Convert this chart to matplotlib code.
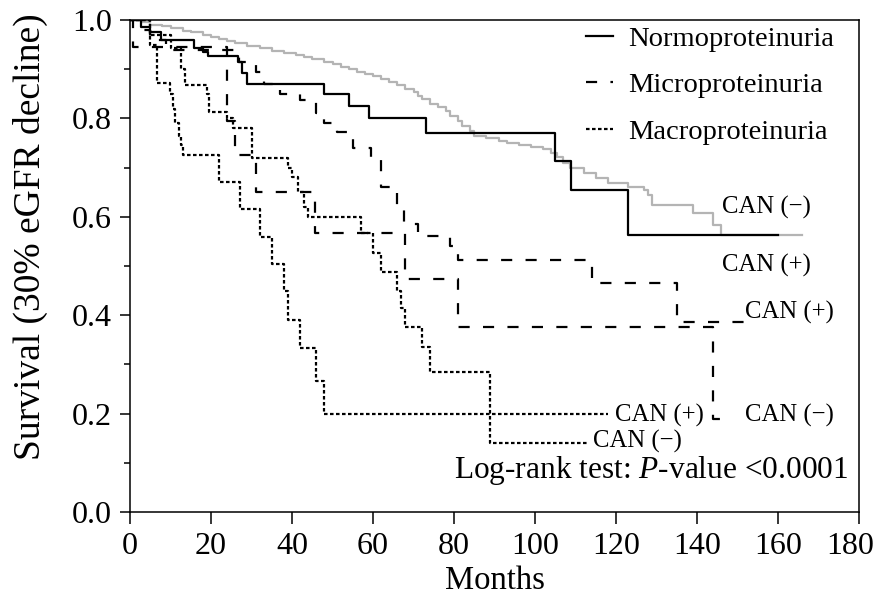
import numpy as np
import matplotlib
matplotlib.use("Agg")
import matplotlib.pyplot as plt
import matplotlib.transforms as mtransforms

plt.rcParams['font.family'] = ['Liberation Serif', 'DejaVu Serif']
plt.rcParams['mathtext.fontset'] = 'custom'
plt.rcParams['mathtext.rm'] = 'Liberation Serif'
plt.rcParams['mathtext.it'] = 'Liberation Serif:italic'

# Normoproteinuria, CAN (-)  (gray)
norm_neg_t = [0, 3, 5, 8, 10, 13, 15, 18, 20, 22, 24, 26, 29, 32, 35, 38, 41, 43, 45, 48,
              50, 52, 54, 56, 58, 60, 62, 64, 66, 68, 70, 71, 72, 74, 76, 78, 79, 81, 82,
              84, 85, 88, 91, 93, 96, 99, 102, 104, 105.4, 107, 108.6, 112, 115, 118, 123,
              127, 128, 129, 139, 144, 146]
norm_neg_s = [1.0, 0.995, 0.99, 0.987, 0.983, 0.978, 0.975, 0.97, 0.966, 0.962, 0.958, 0.953,
              0.948, 0.943, 0.938, 0.933, 0.928, 0.924, 0.92, 0.915, 0.91, 0.905, 0.90, 0.895,
              0.89, 0.886, 0.88, 0.874, 0.867, 0.86, 0.853, 0.846, 0.84, 0.83, 0.823, 0.815,
              0.805, 0.795, 0.785, 0.775, 0.765, 0.76, 0.755, 0.75, 0.746, 0.742, 0.737, 0.73,
              0.722, 0.71, 0.70, 0.689, 0.679, 0.668, 0.66, 0.654, 0.644, 0.624, 0.608, 0.583,
              0.563]
norm_neg_end = 166

# Normoproteinuria, CAN (+)
norm_pos_t = [0, 2.7, 5, 7.7, 15.8, 18, 19.3, 26.7, 27.6, 29, 48, 54, 59, 73, 105, 109, 123]
norm_pos_s = [1.0, 0.985, 0.975, 0.96, 0.943, 0.935, 0.927, 0.915, 0.892, 0.87, 0.85, 0.825,
              0.80, 0.77, 0.713, 0.654, 0.563]
norm_pos_end = 160

# Microproteinuria (two groups)
micro_a_t = [0, 0.8, 24, 26, 31, 45.7, 68, 81, 144]
micro_a_s = [1.0, 0.945, 0.795, 0.726, 0.65, 0.567, 0.474, 0.376, 0.19]
micro_a_end = 148

micro_b_t = [0, 3, 5, 9, 27, 31, 33, 37, 42, 46, 48, 51, 55, 59.5, 62, 66, 67.6, 71, 79, 81,
             114, 135]
micro_b_s = [1.0, 0.98, 0.96, 0.94, 0.915, 0.895, 0.87, 0.85, 0.838, 0.81, 0.79, 0.772, 0.74,
             0.72, 0.66, 0.615, 0.585, 0.561, 0.54, 0.512, 0.465, 0.386]
micro_b_end = 152

# Macroproteinuria (two groups)
macro_c_t = [0, 5, 6.7, 9.8, 10.5, 11.2, 12, 12.6, 13, 22, 27.2, 32, 35, 38, 39, 42, 46, 48]
macro_c_s = [1.0, 0.95, 0.872, 0.85, 0.82, 0.79, 0.765, 0.745, 0.725, 0.67, 0.616, 0.559,
             0.504, 0.45, 0.39, 0.333, 0.266, 0.199]
macro_c_end = 118

macro_d_t = [0, 5, 10, 12.5, 13.5, 19, 19.5, 24, 25.5, 30, 39, 40, 41.5, 43, 44, 57, 60, 62,
             66, 67, 68, 72, 74, 89]
macro_d_s = [1.0, 0.97, 0.943, 0.90, 0.868, 0.85, 0.813, 0.80, 0.78, 0.72, 0.70, 0.68, 0.65,
             0.62, 0.60, 0.567, 0.527, 0.488, 0.45, 0.415, 0.376, 0.336, 0.284, 0.14]
macro_d_end = 113


def km(ax, t, s, end, **kw):
    tt = list(t) + [end]
    ss = list(s) + [s[-1]]
    return ax.step(tt, ss, where='post', **kw)[0]


fig = plt.figure(figsize=(8.81, 5.99), dpi=100)
ax = fig.add_axes([0.1476, 0.1452, 0.8274, 0.8214])

dash = (0, (5, 6))
dot = (0, (1.6, 1.1))

km(ax, norm_neg_t, norm_neg_s, norm_neg_end, color='#b4b4b4', lw=1.6)
h1 = km(ax, norm_pos_t, norm_pos_s, norm_pos_end, color='black', lw=1.6)
h2 = km(ax, micro_a_t, micro_a_s, micro_a_end, color='black', lw=1.6, linestyle=dash)
km(ax, micro_b_t, micro_b_s, micro_b_end, color='black', lw=1.6, linestyle=dash)
h3 = km(ax, macro_c_t, macro_c_s, macro_c_end, color='black', lw=1.6, linestyle=dot)
km(ax, macro_d_t, macro_d_s, macro_d_end, color='black', lw=1.6, linestyle=dot)

ax.set_xlim(0, 180)
ax.set_ylim(0, 1.0)
ax.set_xticks(np.arange(0, 181, 20))
ax.set_yticks(np.arange(0, 1.01, 0.2))
ax.set_yticks(np.arange(0.1, 1.0, 0.2), minor=True)
ax.set_yticklabels(['0.0', '0.2', '0.4', '0.6', '0.8', '1.0'])
ax.tick_params(axis='x', which='major', direction='out', length=8.5, width=1.1,
               labelsize=23, pad=6)
ax.tick_params(axis='y', which='major', direction='out', length=7, width=1.1,
               labelsize=23, pad=6)
ax.tick_params(axis='y', which='minor', direction='out', length=4, width=1.1)
for sp in ax.spines.values():
    sp.set_linewidth(1.1)

# last x label sits a bit to the left so it stays inside the picture
lab = ax.get_xticklabels()[-1]
lab.set_transform(lab.get_transform() + mtransforms.ScaledTranslation(-9 / 100, 0, fig.dpi_scale_trans))

ax.set_xlabel('Months', fontsize=23.5, labelpad=3)
ax.set_ylabel('Survival (30% eGFR decline)', fontsize=27)
ax.yaxis.set_label_coords(-0.113, 0.56)

leg = ax.legend([h1, h2, h3], ['Normoproteinuria', 'Microproteinuria', 'Macroproteinuria'],
                loc='upper left', bbox_to_anchor=(0.625, 0.988), frameon=False,
                fontsize=20.5, handlelength=0.95, handletextpad=0.53, labelspacing=0.72,
                borderpad=0, borderaxespad=0)

fs = 17.8
ax.text(146.2, 0.62, 'CAN (−)', fontsize=fs, ha='left', va='center')
ax.text(146.2, 0.502, 'CAN (+)', fontsize=fs, ha='left', va='center')
ax.text(151.9, 0.406, 'CAN (+)', fontsize=fs, ha='left', va='center')
ax.text(119.8, 0.197, 'CAN (+)', fontsize=fs, ha='left', va='center')
ax.text(151.9, 0.197, 'CAN (−)', fontsize=fs, ha='left', va='center')
ax.text(114.3, 0.144, 'CAN (−)', fontsize=fs, ha='left', va='center')
ax.text(177.3, 0.085, 'Log-rank test: $P$-value <0.0001', fontsize=22.6, ha='right', va='center')

fig.savefig('out.png', dpi=100)
